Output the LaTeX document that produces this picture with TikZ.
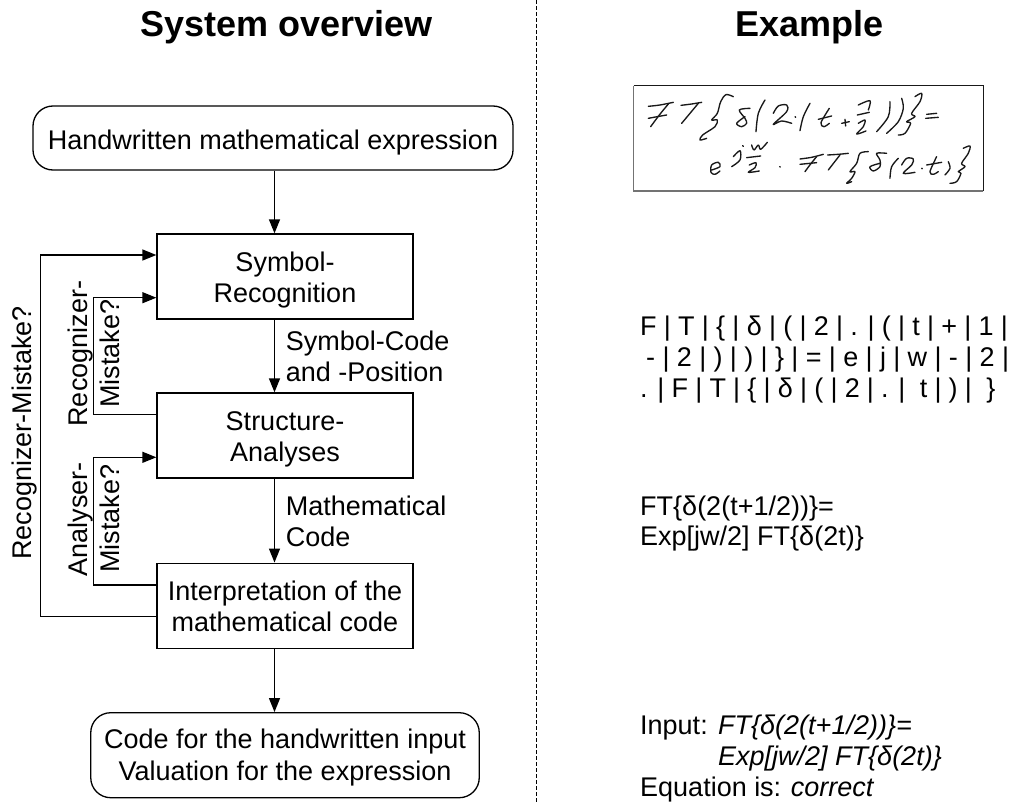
\documentclass[tikz,border=0pt]{standalone}
\usepackage{fontspec}
\setmainfont{Liberation Sans}
\usetikzlibrary{arrows.meta}
\tikzset{
  lbl/.style={inner sep=0pt,anchor=base west,font=\fontsize{27}{32}\selectfont},
  ctr/.style={inner sep=0pt,anchor=base,font=\fontsize{27}{32}\selectfont},
  rot/.style={inner sep=0pt,anchor=base west,rotate=90,font=\fontsize{27}{32}\selectfont},
  ttl/.style={inner sep=0pt,anchor=base,font=\fontsize{36}{40}\selectfont\bfseries},
  procbox/.style={draw,line width=1.3pt,rectangle,minimum width=256pt,minimum height=85pt,inner sep=0pt},
  termbox/.style={draw,line width=1.3pt,rectangle,rounded corners=20pt,inner sep=0pt},
  flow/.style={line width=1.3pt,-{Triangle[length=14pt,width=11pt]}},
  plainline/.style={line width=1.3pt},
  hw/.style={line width=1.35pt,line cap=round,line join=round,black!90},
}
\newcommand{\hwcurve}[1]{\draw[hw] plot[smooth,tension=.55] coordinates {#1};}
\begin{document}
\begin{tikzpicture}[x=1pt,y=-1pt]
\useasboundingbox (0,0) rectangle (1012,803);
\draw[line width=0.8pt,dash pattern=on 3.5pt off 2.5pt] (536,0) -- (536,803);
% titles
\node[ttl] (t1) at (286.5,36) {System overview};
\node[ttl] (t2) at (809.5,36) {Example};
% boxes
\node[termbox,minimum width=480pt,minimum height=64pt] (top) at (273,138) {};
\node[procbox] (sym) at (285,276.5) {};
\node[procbox] (str) at (285,435.5) {};
\node[procbox] (int) at (285,605.7) {};
\node[termbox,minimum width=388.5pt,minimum height=85pt] (bot) at (285,755.2) {};
% box texts
\node[ctr] (a1) at (273,149) {Handwritten mathematical expression};
\node[ctr] (a2) at (285,271.7) {Symbol-};
\node[ctr] (a3) at (285,302.5) {Recognition};
\node[ctr] (a4) at (285,430) {Structure-};
\node[ctr] (a5) at (285,461.7) {Analyses};
\node[ctr] (a6) at (285,600) {Interpretation of the};
\node[ctr] (a7) at (285,631.7) {mathematical code};
\node[ctr] (a8) at (285,748) {Code for the handwritten input};
\node[ctr] (a9) at (285,780.6) {Valuation for the expression};
% vertical connectors
\coordinate (ax) at (274.5,0);
\draw[flow] (ax |- top.south) -- (ax |- sym.north);
\draw[flow] (ax |- sym.south) -- (ax |- str.north);
\draw[flow] (ax |- str.south) -- (ax |- int.north);
\draw[flow] (ax |- int.south) -- (ax |- bot.north);
% connector labels
\node[lbl] (l1) at (285.7,350.7) {Symbol-Code};
\node[lbl] (l2) at (285.7,381.7) {and -Position};
\node[lbl] (l3) at (285.7,515) {Mathematical};
\node[lbl] (l4) at (285.7,546) {Code};
% feedback
\coordinate (fo) at (40.7,0);
\coordinate (fi) at (93.3,0);
\coordinate (o1) at ([yshift=-11pt]int.west);
\coordinate (o2) at ([yshift=21.5pt]sym.west);
\coordinate (i1) at ([yshift=21.2pt]str.west);
\coordinate (i2) at ([yshift=-21.2pt]sym.west);
\coordinate (i3) at ([yshift=20.7pt]int.west);
\coordinate (i4) at ([yshift=-21.8pt]str.west);
\draw[flow] (o1) -- (fo |- o1) -- (fo |- o2) -- (o2);
\draw[flow] (i1) -- (fi |- i1) -- (fi |- i2) -- (i2);
\draw[flow] (i3) -- (fi |- i3) -- (fi |- i4) -- (i4);
\node[rot] (r1) at (31.7,560) {Recognizer-Mistake?};
\node[rot] (r2) at (87,426.7) {Recognizer-};
\node[rot] (r3) at (119,408) {Mistake?};
\node[rot] (r4) at (87,576.7) {Analyser-};
\node[rot] (r5) at (119,573) {Mistake?};
% example texts
\node[lbl] (e1) at (640,335) {\spaceskip=7.25pt F | T | \{ | δ | ( | 2 | . | ( | t | + | 1 |};
\node[lbl] (e2) at (646,366.5) {\spaceskip=7.35pt - | 2 | ) | ) | \} | = | e | j | w | - | 2 |};
\node[lbl] (e3) at (640,397.7) {\spaceskip=7.2pt . | F | T | \{ | δ | ( | 2 | . |\ \ t | ) |\ \ \}};
\node[lbl] (e4) at (640,515) {FT\{δ(2(t+1/2))\}=};
\node[lbl] (e5) at (640,545.5) {Exp[jw/2] FT\{δ(2t)\}};
\node[lbl] (e6) at (640,734) {Input:};
\node[lbl] (e7) at (718,734) {\itshape FT\{δ(2(t+1/2))\}=};
\node[lbl] (e8) at (718,765) {\itshape Exp[jw/2] FT\{δ(2t)\}};
\node[lbl] (e9) at (640,796.7) {Equation is:};
\node[lbl] (e10) at (790.7,796.7) {\itshape correct};
% handwriting panel
\draw[line width=1.2pt,draw=black!90] (633.5,85.7) -- (983.3,85.7) -- (983.3,190.7);
\draw[line width=1.7pt,draw=black!55] (983.3,190.7) -- (633.5,190.7) -- (633.5,85.7);
\begin{scope}[shift={(600,60)},x=0.3333pt,y=-0.3333pt]
% F T
\hwcurve{(145,139) (180,135) (220,127)}
\hwcurve{(205,132) (178,165) (152,200)}
\hwcurve{(145,175) (172,170) (200,165)}
\hwcurve{(243,136) (275,132) (305,127)}
\hwcurve{(295,130) (270,160) (245,190)}
% brace
\hwcurve{(400,110) (378,104) (362,125) (352,160) (335,180) (352,180) (345,200) (308,225) (300,240) (320,235)}
% delta
\hwcurve{(450,145) (418,150) (435,175) (440,190) (425,200) (410,190) (435,170)}
% paren
\hwcurve{(495,120) (475,160) (468,215)}
% 2
\hwcurve{(520,160) (535,138) (560,135) (560,155) (520,193) (545,183) (575,190)}
\hwcurve{(585,170) (587,172)}
% paren
\hwcurve{(630,130) (610,170) (600,212)}
% t
\hwcurve{(655,178) (695,168)}
\hwcurve{(688,145) (663,188) (672,200) (688,190)}
% plus
\hwcurve{(725,190) (748,185)}
\hwcurve{(735,178) (737,198)}
% fraction
\hwcurve{(775,135) (810,122) (805,150)}
\hwcurve{(772,165) (808,157)}
\hwcurve{(775,190) (795,180) (790,200) (770,222) (798,213)}
% parens
\hwcurve{(870,125) (865,170) (830,215)}
\hwcurve{(905,115) (910,145) (895,185) (860,220)}
% closing brace
\hwcurve{(945,110) (965,100) (960,125) (935,160) (945,170) (920,185) (932,190) (915,220) (895,225)}
% equals
\hwcurve{(980,163) (1010,160)}
\hwcurve{(977,175) (1015,172)}
% second line: e
\hwcurve{(335,330) (360,320) (355,307) (335,315) (333,337) (345,343) (360,333)}
% j
\hwcurve{(400,290) (420,272) (420,300) (395,320)}
\hwcurve{(428,257) (430,259)}
% w and fraction
\hwcurve{(455,255) (462,270) (475,255) (482,268) (502,247)}
\hwcurve{(440,293) (482,288)}
\hwcurve{(448,315) (468,308) (465,323) (445,337) (478,333)}
\hwcurve{(539,320) (541,321)}
% F T
\hwcurve{(600,297) (635,292) (670,283)}
\hwcurve{(650,290) (632,312) (615,335)}
\hwcurve{(600,313) (650,308)}
\hwcurve{(683,285) (715,283) (745,280)}
\hwcurve{(720,285) (702,308) (685,330)}
% brace
\hwcurve{(805,275) (780,280) (770,310) (750,335) (765,335) (755,355) (740,370) (755,365)}
% delta
\hwcurve{(860,280) (830,280) (840,300) (840,320) (820,333) (810,320) (840,310)}
\hwcurve{(895,295) (875,320) (870,355)}
% 2
\hwcurve{(905,315) (920,295) (940,297) (935,315) (910,340) (945,337)}
\hwcurve{(965,325) (967,326)}
% t
\hwcurve{(980,315) (1025,307)}
\hwcurve{(1010,290) (990,335) (1000,343) (1015,335)}
% paren, brace
\hwcurve{(1045,305) (1050,325) (1035,345)}
\hwcurve{(1090,265) (1110,258) (1105,280) (1085,310) (1095,320) (1075,335) (1083,340) (1070,365) (1050,370)}
\end{scope}
\end{tikzpicture}
\end{document}
